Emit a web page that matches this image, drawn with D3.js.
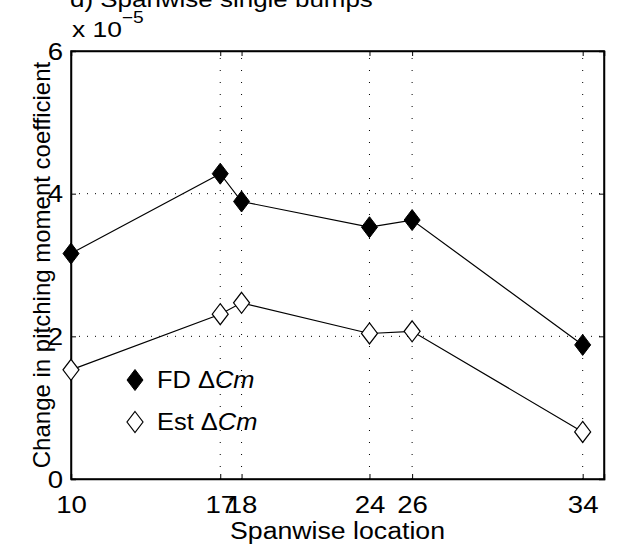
<!DOCTYPE html>
<html>
<head>
<meta charset="utf-8">
<script src="https://cdn.jsdelivr.net/npm/d3@7"></script>
<style>
  body { margin: 0; background: #fff; }
  svg { display: block; }
  text { font-family: "Liberation Sans", Arial, Helvetica, sans-serif; fill: #000; }
</style>
</head>
<body>
<svg id="chart" width="618" height="550"></svg>
<script>
const spanwise = [10, 17, 18, 24, 26, 34];
const fdDeltaCm = [3.16, 4.28, 3.89, 3.53, 3.63, 1.88];
const estDeltaCm = [1.53, 2.31, 2.47, 2.04, 2.07, 0.66];
const xTicks = [10, 17, 18, 24, 26, 34];
const yTicks = [0, 2, 4, 6];
const titleText = "d) Spanwise single bumps";
const xLabel = "Spanwise location";
const yLabel = "Change in pitching moment coefficient";

const svg = d3.select("#chart");
const L = 71, R = 604, T = 51, B = 479;
const SX = 1.2;   // horizontal stretch of the wide sans font
const FS = 23;
const x = d3.scaleLinear().domain([10, 35]).range([L, R]);
const y = d3.scaleLinear().domain([0, 6]).range([B, T]);

// grid
const grid = svg.append("g");
grid.selectAll("line.gx").data(xTicks.filter(d => d !== 10)).enter().append("line")
  .attr("x1", d => x(d)).attr("x2", d => x(d)).attr("y1", B).attr("y2", T)
  .attr("stroke", "#000").attr("stroke-width", 1).attr("stroke-dasharray", "1,11");
grid.selectAll("line.gy").data(yTicks.filter(d => d !== 0 && d !== 6)).enter().append("line")
  .attr("y1", d => y(d)).attr("y2", d => y(d)).attr("x1", L).attr("x2", R)
  .attr("stroke", "#000").attr("stroke-width", 1).attr("stroke-dasharray", "1,7");

// axes (inward ticks)
const ax = d3.axisBottom(x).tickValues(xTicks).tickSize(-5).tickPadding(0).tickFormat(d3.format("d"));
const gx = svg.append("g").attr("transform", `translate(0,${B})`).call(ax);
gx.selectAll("text").attr("font-size", FS).attr("y", 34).attr("dy", null)
  .attr("transform", `scale(${SX},1)`);
const axTop = d3.axisTop(x).tickValues(xTicks).tickSize(-5).tickFormat("");
svg.append("g").attr("transform", `translate(0,${T})`).call(axTop);
const ay = d3.axisLeft(y).tickValues(yTicks).tickSize(-5).tickPadding(0).tickFormat(d3.format("d"));
const gy = svg.append("g").attr("transform", `translate(${L},0)`).call(ay);
gy.selectAll("text").attr("font-size", FS).attr("x", -8 / SX).attr("dy", "0.36em")
  .attr("transform", `scale(${SX},1)`);
const ayR = d3.axisRight(y).tickValues(yTicks).tickSize(-5).tickFormat("");
svg.append("g").attr("transform", `translate(${R},0)`).call(ayR);
svg.selectAll(".domain").attr("stroke", "#000").attr("stroke-width", 1.5);
svg.selectAll(".tick line").attr("stroke", "#000").attr("stroke-width", 1);
svg.selectAll(".tick text").attr("font-family", "Liberation Sans, Arial, sans-serif").attr("fill", "#000");
svg.append("rect").attr("x", L).attr("y", T).attr("width", R - L).attr("height", B - T)
  .attr("fill", "none").attr("stroke", "#000").attr("stroke-width", 1.5);

// lines
const line = d3.line().x(d => x(d[0])).y(d => y(d[1]));
const fdData = spanwise.map((s, i) => [s, fdDeltaCm[i]]);
const estData = spanwise.map((s, i) => [s, estDeltaCm[i]]);
svg.append("path").datum(fdData).attr("d", line).attr("fill", "none").attr("stroke", "#000").attr("stroke-width", 1.2);
svg.append("path").datum(estData).attr("d", line).attr("fill", "none").attr("stroke", "#000").attr("stroke-width", 1.2);

const hw = 8, hh = 10.5;
const diamond = (cx, cy) => `M${cx},${cy - hh}L${cx + hw},${cy}L${cx},${cy + hh}L${cx - hw},${cy}Z`;
svg.selectAll("path.fd").data(fdData).enter().append("path")
  .attr("d", d => diamond(x(d[0]), y(d[1]))).attr("fill", "#000").attr("stroke", "#000").attr("stroke-width", 1);
svg.selectAll("path.est").data(estData).enter().append("path")
  .attr("d", d => diamond(x(d[0]), y(d[1]))).attr("fill", "#fff").attr("stroke", "#000").attr("stroke-width", 1.2);

// legend
const leg = svg.append("g");
leg.append("path").attr("d", diamond(135, 380)).attr("fill", "#000").attr("stroke", "#000");
leg.append("path").attr("d", diamond(135, 422)).attr("fill", "#fff").attr("stroke", "#000").attr("stroke-width", 1.2);
const LS = 1.06;
const t1 = leg.append("text").attr("transform", `translate(157,388) scale(${LS},1)`).attr("font-size", 24);
t1.append("tspan").text("FD \u0394");
t1.append("tspan").attr("font-style", "italic").text("Cm");
const t2 = leg.append("text").attr("transform", `translate(157,430) scale(${LS},1)`).attr("font-size", 24);
t2.append("tspan").text("Est \u0394");
t2.append("tspan").attr("font-style", "italic").text("Cm");

// exponent label
const ex = svg.append("text").attr("transform", `translate(72,37) scale(${SX},1)`).attr("font-size", 22);
ex.append("tspan").text("x 10");
ex.append("tspan").attr("font-size", 16).attr("dy", -14).text("\u22125");

// title (partly clipped at top)
svg.append("text").attr("transform", `translate(70,7) scale(1.18,1)`).attr("font-size", 22).text(titleText);

// axis labels
svg.append("text").attr("transform", `translate(${(L + R) / 2},539) scale(1.16,1)`)
  .attr("text-anchor", "middle").attr("font-size", FS).text(xLabel);
svg.append("text").attr("transform", `translate(50,${(T + B) / 2}) rotate(-90)`)
  .attr("text-anchor", "middle").attr("font-size", 24).text(yLabel);
</script>
</body>
</html>
